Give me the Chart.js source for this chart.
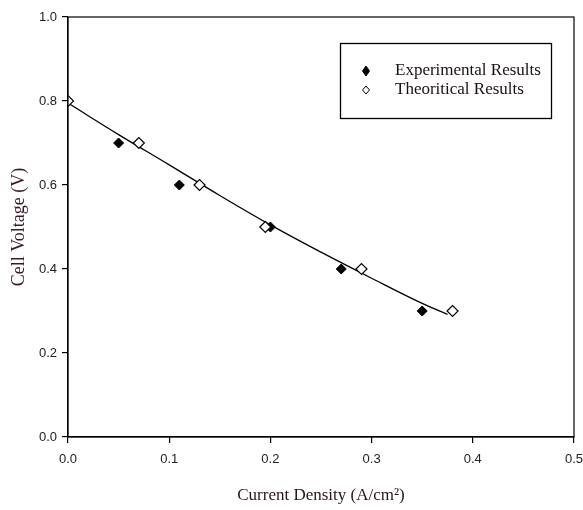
<!DOCTYPE html>
<html lang="en">
  <head>
    <meta charset="UTF-8" />
    <title>Cell Voltage vs Current Density</title>
    <script src="https://cdn.jsdelivr.net/npm/chart.js"></script>
    <style>
      body { margin: 0; background: #fff; }
      #wrap { width: 583px; height: 510px; }
    </style>
  </head>
  <body>
    <div id="wrap"><canvas id="myChart" width="583" height="510"></canvas></div>
    <script>
      // data
      const expX = [0.05, 0.11, 0.2, 0.27, 0.35];
      const expY = [0.7, 0.6, 0.5, 0.4, 0.3];
      const theoX = [0.0, 0.07, 0.13, 0.195, 0.29, 0.38];
      const theoY = [0.8, 0.7, 0.6, 0.5, 0.4, 0.3];
      const fitX = [0.0, 0.05, 0.1, 0.15, 0.2, 0.25, 0.3, 0.35, 0.375];
      const fitY = [0.795, 0.72, 0.648, 0.575, 0.505, 0.44, 0.378, 0.318, 0.292];
      const xTicks = [0.0, 0.1, 0.2, 0.3, 0.4, 0.5];
      const yTicks = [0.0, 0.2, 0.4, 0.6, 0.8, 1.0];

      const pts = (xs, ys) => xs.map((x, i) => ({ x: x, y: ys[i] }));

      // frame + legend box drawn on the canvas
      const boxPlugin = {
        id: "boxPlugin",
        afterDraw(chart) {
          const { ctx, chartArea: a } = chart;
          ctx.save();
          ctx.strokeStyle = "#000";
          ctx.lineWidth = 1.2;
          ctx.strokeRect(a.left, a.top, a.right - a.left, a.bottom - a.top);

          // legend
          ctx.lineWidth = 1.3;
          ctx.strokeRect(340.5, 43.5, 211, 75);
          const items = chart.data.datasets.filter((d) => d.showInLegend);
          items.forEach((d, i) => {
            const y = 71 + i * 19;
            const h = i === 0 ? 5 : 4;
            ctx.beginPath();
            ctx.moveTo(366, y - h);
            ctx.lineTo(369.5, y);
            ctx.lineTo(366, y + h);
            ctx.lineTo(362.5, y);
            ctx.closePath();
            ctx.fillStyle = d.backgroundColor;
            ctx.fill();
            ctx.lineWidth = 1;
            ctx.strokeStyle = "#000";
            ctx.stroke();
            ctx.fillStyle = "#1a1010";
            ctx.font = "17px 'Liberation Serif', serif";
            ctx.textBaseline = "middle";
            ctx.fillText(d.label, 395, y);
          });
          ctx.restore();
        },
      };

      new Chart(document.getElementById("myChart"), {
        type: "scatter",
        data: {
          datasets: [
            {
              label: "Fit",
              type: "line",
              data: pts(fitX, fitY),
              borderColor: "#000",
              borderWidth: 1.3,
              pointRadius: 0,
              tension: 0.4,
              fill: false,
              order: 3,
            },
            {
              label: "Experimental Results",
              showInLegend: true,
              data: pts(expX, expY),
              pointStyle: "rectRot",
              pointRadius: 5,
              backgroundColor: "#000",
              borderColor: "#000",
              borderWidth: 1,
              order: 2,
            },
            {
              label: "Theoritical Results",
              showInLegend: true,
              data: pts(theoX, theoY),
              pointStyle: "rectRot",
              pointRadius: 5.5,
              backgroundColor: "#fff",
              borderColor: "#000",
              borderWidth: 1.2,
              order: 1,
            },
          ],
        },
        options: {
          responsive: false,
          animation: false,
          layout: { padding: { top: 17, right: 9, left: 0, bottom: 0 } },
          plugins: {
            legend: { display: false },
            tooltip: { enabled: false },
          },
          scales: {
            x: {
              type: "linear",
              min: 0,
              max: 0.5,
              afterBuildTicks: (s) => { s.ticks = xTicks.map((v) => ({ value: v })); },
              afterFit: (s) => { s.height = 73; s.paddingRight = 0; },
              grid: { drawOnChartArea: false, tickLength: 6, color: "#000", lineWidth: 1.2 },
              border: { color: "#000", width: 1.2 },
              ticks: {
                color: "#222",
                font: { family: "'Liberation Sans', Arial", size: 13 },
                padding: 9,
                callback: (v) => v.toFixed(1),
              },
              title: {
                display: true,
                text: "Current Density (A/cm\u00B2)",
                color: "#2a1515",
                font: { family: "'Liberation Serif', serif", size: 17 },
                padding: { top: 10 },
              },
            },
            y: {
              type: "linear",
              min: 0,
              max: 1,
              afterBuildTicks: (s) => { s.ticks = yTicks.map((v) => ({ value: v })); },
              afterFit: (s) => { s.width = 68; },
              grid: { drawOnChartArea: false, tickLength: 6, color: "#000", lineWidth: 1.2 },
              border: { color: "#000", width: 1.2 },
              ticks: {
                color: "#222",
                font: { family: "'Liberation Sans', Arial", size: 13 },
                padding: 5,
                callback: (v) => v.toFixed(1),
              },
              title: {
                display: true,
                text: "Cell Voltage (V)",
                color: "#3a1a20",
                font: { family: "'Liberation Serif', serif", size: 18 },
                padding: { top: 8, bottom: 0 },
              },
            },
          },
        },
        plugins: [boxPlugin],
      });
    </script>
  </body>
</html>
